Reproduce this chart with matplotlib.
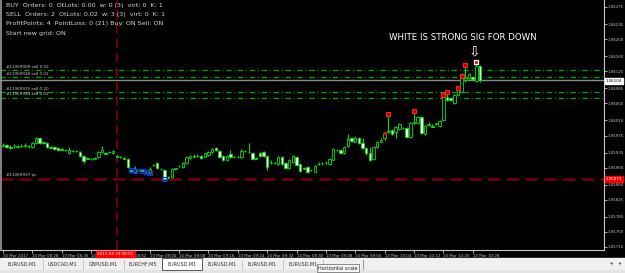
import matplotlib.pyplot as plt
from matplotlib.patches import Rectangle
from matplotlib.lines import Line2D

W, H = 625, 273

# EURUSD M1 bars, 10 Mar 2017 08:20 .. 10:30
opens = [1.05950, 1.05953, 1.05948, 1.05950, 1.05948, 1.05950, 1.05950, 1.05951, 1.05948, 1.05957,
         1.05969, 1.05960, 1.05957, 1.05948, 1.05948, 1.05946, 1.05943, 1.05941, 1.05934, 1.05939,
         1.05938, 1.05936, 1.05927, 1.05922, 1.05920, 1.05921, 1.05925, 1.05936, 1.05934, 1.05936,
         1.05934, 1.05927, 1.05925, 1.05922, 1.05920, 1.05894, 1.05890, 1.05895, 1.05894, 1.05890,
         1.05887, 1.05906, 1.05911, 1.05897, 1.05894, 1.05878, 1.05878, 1.05897, 1.05904, 1.05901,
         1.05911, 1.05922, 1.05925, 1.05927, 1.05927, 1.05925, 1.05929, 1.05936, 1.05946, 1.05939,
         1.05927, 1.05918, 1.05932, 1.05925, 1.05924, 1.05925, 1.05939, 1.05936, 1.05934, 1.05922,
         1.05934, 1.05936, 1.05927, 1.05911, 1.05910, 1.05908, 1.05925, 1.05911, 1.05899, 1.05913,
         1.05925, 1.05908, 1.05899, 1.05901, 1.05894, 1.05890, 1.05908, 1.05911, 1.05910, 1.05908,
         1.05918, 1.05941, 1.05941, 1.05934, 1.05950, 1.05969, 1.05960, 1.05969, 1.05957, 1.05946,
         1.05934, 1.05920, 1.05948, 1.05960, 1.05969, 1.05983, 1.05988, 1.05983, 1.05990, 1.05992,
         1.05992, 1.05971, 1.06004, 1.06004, 1.06018, 1.05978, 1.05999, 1.05997, 1.06002, 1.05997,
         1.06011, 1.06065, 1.06062, 1.06051, 1.06069, 1.06076, 1.06104, 1.06109, 1.06111, 1.06102,
         1.06137]
closes = [1.05953, 1.05948, 1.05947, 1.05951, 1.05950, 1.05950, 1.05953, 1.05950, 1.05957, 1.05969,
          1.05957, 1.05957, 1.05948, 1.05947, 1.05943, 1.05941, 1.05942, 1.05941, 1.05941, 1.05938,
          1.05939, 1.05927, 1.05915, 1.05921, 1.05920, 1.05922, 1.05936, 1.05941, 1.05933, 1.05937,
          1.05939, 1.05926, 1.05924, 1.05921, 1.05901, 1.05893, 1.05897, 1.05894, 1.05893, 1.05889,
          1.05897, 1.05907, 1.05899, 1.05896, 1.05873, 1.05877, 1.05897, 1.05898, 1.05903, 1.05911,
          1.05925, 1.05927, 1.05926, 1.05927, 1.05922, 1.05934, 1.05936, 1.05943, 1.05941, 1.05925,
          1.05918, 1.05927, 1.05925, 1.05924, 1.05925, 1.05939, 1.05938, 1.05937, 1.05920, 1.05921,
          1.05927, 1.05927, 1.05901, 1.05910, 1.05911, 1.05925, 1.05908, 1.05899, 1.05918, 1.05927,
          1.05906, 1.05892, 1.05898, 1.05890, 1.05895, 1.05904, 1.05909, 1.05910, 1.05911, 1.05920,
          1.05943, 1.05942, 1.05934, 1.05948, 1.05967, 1.05962, 1.05969, 1.05957, 1.05946, 1.05934,
          1.05918, 1.05948, 1.05960, 1.05964, 1.05981, 1.05985, 1.05978, 1.05995, 1.06002, 1.05993,
          1.05971, 1.06004, 1.06006, 1.06018, 1.05981, 1.05997, 1.06002, 1.05996, 1.06003, 1.06009,
          1.06065, 1.06058, 1.06058, 1.06069, 1.06081, 1.06116, 1.06109, 1.06118, 1.06107, 1.06137,
          1.06104]
highs = [1.05957, 1.05955, 1.05953, 1.05955, 1.05953, 1.05955, 1.05957, 1.05953, 1.05960, 1.05971,
         1.05971, 1.05962, 1.05960, 1.05950, 1.05950, 1.05948, 1.05946, 1.05943, 1.05948, 1.05941,
         1.05941, 1.05939, 1.05929, 1.05925, 1.05922, 1.05925, 1.05939, 1.05950, 1.05936, 1.05939,
         1.05941, 1.05929, 1.05927, 1.05925, 1.05922, 1.05897, 1.05904, 1.05897, 1.05897, 1.05892,
         1.05901, 1.05908, 1.05913, 1.05899, 1.05897, 1.05880, 1.05899, 1.05899, 1.05906, 1.05913,
         1.05927, 1.05929, 1.05932, 1.05932, 1.05929, 1.05935, 1.05939, 1.05946, 1.05948, 1.05941,
         1.05929, 1.05929, 1.05941, 1.05927, 1.05927, 1.05943, 1.05941, 1.05957, 1.05936, 1.05925,
         1.05936, 1.05939, 1.05929, 1.05918, 1.05913, 1.05927, 1.05927, 1.05913, 1.05920, 1.05929,
         1.05927, 1.05911, 1.05901, 1.05904, 1.05897, 1.05906, 1.05913, 1.05913, 1.05915, 1.05922,
         1.05946, 1.05943, 1.05943, 1.05950, 1.05978, 1.05971, 1.05974, 1.05971, 1.05969, 1.05948,
         1.05948, 1.05950, 1.05962, 1.05969, 1.05983, 1.06022, 1.05990, 1.05997, 1.06004, 1.05995,
         1.05995, 1.06006, 1.06029, 1.06020, 1.06020, 1.05999, 1.06006, 1.06002, 1.06004, 1.06011,
         1.06067, 1.06072, 1.06065, 1.06072, 1.06083, 1.06121, 1.06134, 1.06121, 1.06114, 1.06141,
         1.06139]
lows = [1.05948, 1.05946, 1.05943, 1.05946, 1.05946, 1.05948, 1.05948, 1.05946, 1.05946, 1.05955,
        1.05955, 1.05955, 1.05946, 1.05946, 1.05941, 1.05939, 1.05941, 1.05939, 1.05932, 1.05936,
        1.05936, 1.05925, 1.05911, 1.05920, 1.05918, 1.05920, 1.05922, 1.05934, 1.05932, 1.05934,
        1.05933, 1.05925, 1.05922, 1.05920, 1.05899, 1.05892, 1.05889, 1.05892, 1.05892, 1.05887,
        1.05885, 1.05904, 1.05897, 1.05894, 1.05869, 1.05876, 1.05876, 1.05894, 1.05901, 1.05899,
        1.05908, 1.05921, 1.05924, 1.05925, 1.05920, 1.05924, 1.05927, 1.05934, 1.05939, 1.05922,
        1.05915, 1.05915, 1.05922, 1.05922, 1.05922, 1.05922, 1.05936, 1.05934, 1.05918, 1.05920,
        1.05925, 1.05925, 1.05894, 1.05908, 1.05908, 1.05906, 1.05906, 1.05897, 1.05897, 1.05911,
        1.05904, 1.05890, 1.05897, 1.05887, 1.05892, 1.05889, 1.05906, 1.05906, 1.05908, 1.05906,
        1.05917, 1.05939, 1.05932, 1.05932, 1.05949, 1.05961, 1.05959, 1.05955, 1.05943, 1.05929,
        1.05915, 1.05918, 1.05947, 1.05959, 1.05964, 1.05981, 1.05976, 1.05969, 1.05988, 1.05990,
        1.05969, 1.05969, 1.06002, 1.06002, 1.05978, 1.05976, 1.05997, 1.05995, 1.05999, 1.05995,
        1.06009, 1.06055, 1.06055, 1.06048, 1.06067, 1.06074, 1.06100, 1.06107, 1.06104, 1.06100,
        1.06100]

# indicator signals (bar index, price)
red_sig_bars = [105, 112, 120, 121, 124, 125, 126]
red_sig_prices = [1.06025, 1.06032, 1.06069, 1.06076, 1.06086, 1.06114, 1.06139]
white_sig_bars = [129]
white_sig_prices = [1.06146]
blue_sig_bars = [35, 36, 38, 39, 40, 44]
blue_sig_prices = [1.05894, 1.05892, 1.05892, 1.05890, 1.05887, 1.05873]

# order lines
order_names = ['#11069909 sell 0.02', '#11069918 sell 0.02', '#11069915 sell 0.20', '#11069924 sell 0.02']
order_prices = [1.06128, 1.06111, 1.06076, 1.06062]
tp_name = '#11069937 tp'
tp_price = 1.05873
bid_price = 1.06104
cursor_bar = 31
cursor_label = '2017.03.10 08:51'

ytick_vals = [1.06275, 1.06235, 1.06200, 1.06160, 1.06125, 1.06085, 1.06050, 1.06010,
              1.05975, 1.05935, 1.05900, 1.05860, 1.05825, 1.05785, 1.05750, 1.05715]
xtick_bars = list(range(0, 129, 8))
xtick_labels = ['10 Mar 2017', '10 Mar 08:28', '10 Mar 08:36', '10 Mar 08:44', '10 Mar 08:52',
                '10 Mar 09:00', '10 Mar 09:08', '10 Mar 09:16', '10 Mar 09:24', '10 Mar 09:32',
                '10 Mar 09:40', '10 Mar 09:48', '10 Mar 09:56', '10 Mar 10:04', '10 Mar 10:12',
                '10 Mar 10:20', '10 Mar 10:28']

info_lines = ['BUY  Orders: 0  OtLots: 0.00  w: 0 (3)  virt: 0  K: 1',
              'SELL  Orders: 2  OtLots: 0.02  w: 3 (3)  virt: 0  K: 1',
              'ProfitPoints: 4  PointLoss: 0 (21) Buy: ON Sell: ON',
              'Start new grid: ON']
tabs = ['EURUSD,M1', 'USDCAD,M1', 'GBPUSD,M1', 'EURCHF,M5', 'EURUSD,M1', 'EURUSD,M1', 'EURUSD,M1', 'EURUSD,M1']
active_tab = 4

GREEN = '#00e000'
LGRAY = '#c8c8c8'


def px(x, y):
    return x / W, 1 - y / H


fig = plt.figure(figsize=(W / 100, H / 100), dpi=100, facecolor='black')
ax = fig.add_axes([0, 23 / H, 604 / W, 250 / H], facecolor='black')
ax.set_xlim(-0.82, 163.8)
ax.set_ylim(1.05708, 1.06291)

# candles
n = len(opens)
xs = list(range(n))
ax.vlines(xs, lows, highs, color=GREEN, lw=0.8, zorder=3)
bottoms = [min(o, c) for o, c in zip(opens, closes)]
heights = [max(abs(c - o), 0.000012) for o, c in zip(opens, closes)]
faces = ['black' if c >= o else 'white' for o, c in zip(opens, closes)]
ax.bar(xs, heights, bottom=bottoms, width=0.68, color=faces, edgecolor=GREEN, lw=0.6, zorder=4)

ax.scatter(red_sig_bars, red_sig_prices, marker='s', s=11, facecolor='#c00000', edgecolor='#ff2020', lw=0.8, zorder=6)
ax.scatter(white_sig_bars, white_sig_prices, marker='s', s=11, facecolor='#e00000', edgecolor='white', lw=0.9, zorder=6)
ax.scatter(blue_sig_bars, blue_sig_prices, marker='s', s=10, facecolor='none', edgecolor='#1030ff', lw=0.9, zorder=6)
ax.scatter([104], [1.05981], marker='s', s=3, color='red', zorder=6)

# order / price lines
for p in order_prices:
    ax.axhline(p, color='#00a800', lw=0.9, dashes=(4.3, 2.2, 0.8, 2.2), zorder=2)
ax.axhline(bid_price, color='#8a8a8a', lw=1.0, zorder=2)
ax.axhline(tp_price, color='#7a0000', lw=1.8, dashes=(5, 2.5), zorder=2)
ax.axvline(cursor_bar, color='#7a0000', lw=1.3, dashes=(5, 3), zorder=2)

# axes
for s in ['left', 'top']:
    ax.spines[s].set_visible(False)
for s in ['right', 'bottom']:
    ax.spines[s].set_color(LGRAY)
    ax.spines[s].set_linewidth(0.8)
ax.yaxis.tick_right()
ax.set_yticks(ytick_vals)
ax.set_yticklabels(['%.5f' % v for v in ytick_vals])
ax.set_xticks(xtick_bars)
ax.set_xticklabels(xtick_labels, ha='left')
ax.tick_params(axis='y', colors=LGRAY, labelsize=2.9, length=2, width=0.6, pad=0.8)
ax.tick_params(axis='x', colors=LGRAY, labelsize=2.9, length=2, width=0.6, pad=1)

# texts on the chart
for i, t in enumerate(info_lines):
    fig.text(*px(6, 5 + i * 9.5), t, color='#d8d8d8', fontsize=4.6, va='center')
for name, y in zip(order_names, [67, 74, 89, 94]):
    fig.text(*px(6, y), name, color='#d0d0d0', fontsize=3.0, va='center')
fig.text(*px(6, 175), tp_name, color='#d0d0d0', fontsize=3.0, va='center')
fig.text(*px(463, 37), 'WHITE IS STRONG SIG FOR DOWN', color='white', fontsize=6.2, ha='center', va='center')
fig.text(*px(474, 51), '\u21e9', color='white', fontsize=10, ha='center', va='center')

# price boxes on the scale
fig.text(*px(606, 81), '%.5f' % bid_price, color='black', fontsize=2.9, va='center',
         bbox=dict(boxstyle='square,pad=0.2', fc='white', ec='white'))
fig.text(*px(606, 179), '%.5f' % tp_price, color='white', fontsize=2.9, va='center',
         bbox=dict(boxstyle='square,pad=0.2', fc='#ff0000', ec='#ff0000'))
fig.text(*px(115.5, 254), cursor_label, color='white', fontsize=3.0, ha='center', va='center', zorder=10,
         bbox=dict(boxstyle='square,pad=0.3', fc='#ff0000', ec='#ff0000'))

# left border
fig.add_artist(Line2D([1.5 / W, 1.5 / W], [1 - 250 / H, 1], color='#9a9a9a', lw=1.2))

# tab bar and status bar
fig.add_artist(Rectangle(px(0, 273), 1, 15 / H, color='#f0f0f0', zorder=5))
fig.add_artist(Rectangle(px(0, 273), 1, 3 / H, color='#e4e4e4', zorder=5))
edges = [2, 43, 83, 124, 162, 202, 242, 283, 323]
for i, t in enumerate(tabs):
    x0, x1 = edges[i], edges[i + 1]
    if i == active_tab:
        fig.add_artist(Rectangle(px(x0, 270), (x1 - x0) / W, 12 / H, fc='white', ec='#404040', lw=0.6, zorder=6))
    else:
        fig.add_artist(Line2D([x1 / W, x1 / W], [1 - 269 / H, 1 - 260 / H], color='#b0b0b0', lw=0.5, zorder=6))
    fig.text(*px((x0 + x1) / 2, 264), t, color='#303030', fontsize=3.5, ha='center', va='center', zorder=7)
fig.add_artist(Line2D([363 / W, 363 / W], [1 - 269 / H, 1 - 260 / H], color='#808080', lw=0.6, zorder=6))
fig.text(*px(338, 268), 'Horizontal scale', color='#202020', fontsize=3.5, ha='center', va='center', zorder=8,
         bbox=dict(boxstyle='square,pad=0.25', fc='#f8f8f8', ec='#606060', lw=0.5))
fig.text(*px(611, 263), '\u25c2', color='#606060', fontsize=4, ha='center', va='center', zorder=7)
fig.text(*px(620, 263), '\u25b8', color='#606060', fontsize=4, ha='center', va='center', zorder=7)

fig.savefig('out.png', dpi=100, facecolor='black')
